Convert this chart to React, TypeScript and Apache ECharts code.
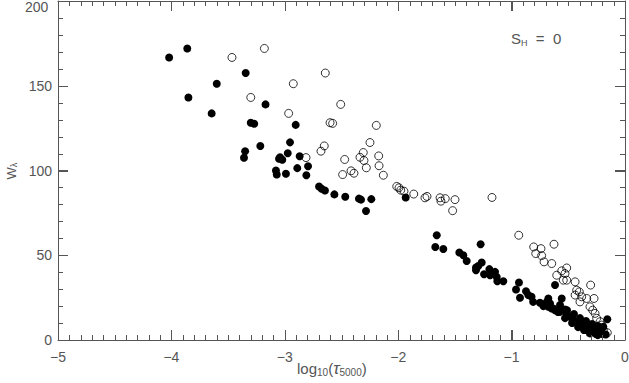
import React, { useEffect, useRef } from "react";
import * as echarts from "echarts";

// log10(tau_5000), W_lambda for S_H = 0
const filledPoints: [number, number][] = [
  [-4.02, 166.7], [-3.86, 172], [-3.85, 143.1], [-3.6, 151.2], [-3.645, 133.7],
  [-3.345, 157.5], [-3.17, 139], [-3.3, 128.2], [-3.27, 127.6], [-3.35, 111.4],
  [-3.36, 107.5], [-3.216, 114.5], [-2.904, 126.9], [-2.954, 116.6], [-2.974, 110.2],
  [-3.042, 107.8], [-3.022, 106.3], [-3.051, 106.9], [-2.869, 108.4], [-2.795, 102.5],
  [-2.89, 101.4], [-3.078, 100], [-3.071, 97.6], [-2.99, 98.1], [-2.81, 97.2],
  [-2.698, 90.6], [-2.675, 89.2], [-2.646, 88.2], [-2.563, 85.9], [-2.467, 84.5],
  [-2.346, 83.4], [-2.328, 82.8], [-2.237, 83.1], [-2.284, 76.1], [-1.934, 84.1],
  [-1.66, 61.8], [-1.673, 54.9], [-1.602, 53.7], [-1.273, 56.5], [-1.461, 51.6],
  [-1.426, 50], [-1.396, 46.6], [-1.264, 45.7], [-1.294, 43.7], [-1.314, 41.2],
  [-1.314, 42.8], [-1.243, 38.8], [-1.196, 41.8], [-1.175, 39.6], [-1.146, 40.2],
  [-1.131, 37.2], [-1.126, 34.7], [-1.073, 34.7], [-1.19, 38.2], [-0.935, 33.9],
  [-0.961, 29.8], [-0.926, 24.9], [-0.873, 28.8], [-0.853, 26.5], [-0.824, 25.5],
  [-0.81, 22.5], [-0.617, 32.4], [-0.558, 24.5], [-0.676, 24.5], [-0.661, 21.6],
  [-0.632, 18.6], [-0.602, 17.6], [-0.573, 16.6], [-0.529, 18.0], [-0.514, 15.7],
  [-0.485, 13.7], [-0.456, 11.8], [-0.412, 10.8], [-0.382, 8.8], [-0.338, 7.8],
  [-0.309, 6.9], [-0.279, 5.9], [-0.25, 4.9], [-0.22, 5.9], [-0.309, 3.9],
  [-0.353, 5.9], [-0.156, 12.2], [-0.191, 7.8], [-0.264, 7.8], [-0.2, 3.5],
  [-0.24, 2.9], [-0.17, 3.2], [-0.75, 22], [-0.72, 20],
  [-0.573, 20.6], [-0.511, 17.6], [-0.45, 15.3], [-0.397, 12.9], [-0.344, 11.2],
  [-0.291, 9.4], [-0.238, 8.2], [-0.591, 16.5], [-0.529, 12.9], [-0.467, 10],
  [-0.414, 7.6], [-0.362, 5.9], [-0.309, 4.7], [-0.256, 3.5], [-0.203, 4.1],
  [-0.69, 22.5], [-0.676, 19.6], [-0.646, 18.6], [-0.617, 17.6],
];

const openPoints: [number, number][] = [
  [-3.466, 166.7], [-3.18, 172], [-3.3, 143.1], [-2.643, 157.5], [-2.925, 151.2],
  [-2.507, 139], [-2.966, 133.7], [-2.601, 128.2], [-2.578, 127.8], [-2.193, 126.6],
  [-2.249, 116.5], [-2.652, 114.5], [-2.681, 111.4], [-2.813, 107.6], [-2.472, 106.5],
  [-2.308, 110.6], [-2.337, 107.8], [-2.302, 105.9], [-2.172, 108.6], [-2.169, 102.8],
  [-2.131, 97.2], [-2.281, 101.6], [-2.49, 97.6], [-2.416, 99.8], [-2.39, 98.4],
  [-2.013, 90.6], [-1.993, 89.8], [-1.978, 88.4], [-1.949, 87.8], [-1.863, 86.1],
  [-1.764, 83.9], [-1.746, 84.7], [-1.631, 83.9], [-1.623, 81.9], [-1.585, 83.4],
  [-1.499, 82.8], [-1.52, 76.3], [-1.173, 84.1], [-0.937, 61.8], [-0.805, 54.9],
  [-0.741, 53.9], [-0.787, 51], [-0.735, 49.8], [-0.714, 46.1], [-0.646, 45.1],
  [-0.626, 56.5], [-0.558, 40.8], [-0.514, 42.5], [-0.529, 39.2], [-0.602, 38.2],
  [-0.514, 35.3], [-0.544, 35.3], [-0.44, 34.3], [-0.426, 29.4], [-0.403, 28.4],
  [-0.44, 26.5], [-0.382, 25.5], [-0.397, 22.5], [-0.303, 32.4], [-0.338, 24.5],
  [-0.273, 24.5], [-0.309, 19.6], [-0.285, 17.6], [-0.264, 15.7], [-0.25, 12.8],
  [-0.22, 10.8], [-0.235, 7.8], [-0.191, 5.9], [-0.156, 4.3], [-0.206, 8.8],
];

const X_MIN = -5;
const X_MAX = 0;
const X_MAJOR = 1;
const X_MINOR = 0.1;
const Y_MIN = 0;
const Y_MAX = 200;
const Y_MAJOR = 50;
const Y_MINOR = 10;

const FONT = "Liberation Sans";
const TEXT = "#555";
const LINE = "#555";

// tick marks: [value, kind] kind 0 = x major, 1 = x minor, 2 = y major, 3 = y minor
function buildTicks(): [number, number][] {
  const out: [number, number][] = [];
  const nx = Math.round((X_MAX - X_MIN) / X_MINOR);
  const sx = Math.round(X_MAJOR / X_MINOR);
  for (let i = 1; i < nx; i++) out.push([X_MIN + i * X_MINOR, i % sx === 0 ? 0 : 1]);
  const ny = Math.round((Y_MAX - Y_MIN) / Y_MINOR);
  const sy = Math.round(Y_MAJOR / Y_MINOR);
  for (let i = 1; i < ny; i++) out.push([Y_MIN + i * Y_MINOR, i % sy === 0 ? 2 : 3]);
  return out;
}

export default function App() {
  const ref = useRef<HTMLDivElement>(null);
  useEffect(() => {
    if (!ref.current) return;
    const chart = echarts.init(ref.current, undefined, { renderer: "svg" });
    const line = { show: true, onZero: false, lineStyle: { color: LINE, width: 1 } };
    const tick = { show: true, inside: true, length: 10, lineStyle: { color: LINE, width: 1 } };
    const minusFmt = (v: number) => String(v).replace("-", "\u2212");
    chart.setOption({
      animation: false,
      backgroundColor: "#fff",
      grid: { left: 58, right: 4, top: 1, bottom: 43, outerBoundsMode: "none" },
      xAxis: [
        {
          type: "value",
          position: "bottom",
          min: X_MIN,
          max: X_MAX,
          interval: X_MAJOR,
          axisLine: line,
          axisTick: tick,
          splitLine: { show: false },
          axisLabel: { formatter: minusFmt, margin: 10, fontSize: 14, color: TEXT, fontFamily: FONT },
        },
        {
          type: "value",
          position: "top",
          min: X_MIN,
          max: X_MAX,
          interval: X_MAJOR,
          axisLine: line,
          axisTick: tick,
          splitLine: { show: false },
          axisLabel: { show: false },
        },
      ],
      yAxis: [
        {
          type: "value",
          position: "left",
          min: Y_MIN,
          max: Y_MAX,
          interval: Y_MAJOR,
          axisLine: line,
          axisTick: tick,
          splitLine: { show: false },
          axisLabel: { showMaxLabel: false, margin: 6, fontSize: 14, color: TEXT, fontFamily: FONT },
        },
        {
          type: "value",
          position: "right",
          min: Y_MIN,
          max: Y_MAX,
          interval: Y_MAJOR,
          axisLine: line,
          axisTick: tick,
          splitLine: { show: false },
          axisLabel: { show: false },
        },
      ],
      graphic: [
        {
          type: "text",
          left: 25,
          top: 0,
          style: { text: "200", fontSize: 14, fill: TEXT, fontFamily: FONT },
        },
        {
          type: "text",
          x: 11,
          y: 171,
          rotation: Math.PI / 2,
          style: {
            text: "W{s|λ}",
            align: "center",
            verticalAlign: "middle",
            fontSize: 13,
            fill: TEXT,
            fontFamily: FONT,
            rich: { s: { fontSize: 9, fill: TEXT, fontFamily: FONT, verticalAlign: "bottom", padding: [6, 0, 0, 0] } },
          },
        },
        {
          type: "text",
          left: 297,
          top: 360,
          style: {
            text: "log{s|10}({t|τ}{s|5000})",
            fontSize: 15,
            fill: TEXT,
            fontFamily: FONT,
            rich: {
              s: { fontSize: 10, fill: TEXT, fontFamily: FONT, verticalAlign: "bottom", padding: [8, 0, 0, 0] },
              t: { fontSize: 17, fill: TEXT, fontFamily: FONT, fontStyle: "italic" },
            },
          },
        },
        {
          type: "text",
          left: 511,
          top: 31,
          style: {
            text: "S{s|H}  =  0",
            fontSize: 15,
            fill: TEXT,
            fontFamily: FONT,
            rich: { s: { fontSize: 9, fill: TEXT, fontFamily: FONT, verticalAlign: "bottom", padding: [8, 0, 0, 0] } },
          },
        },
      ],
      series: [
        {
          type: "custom",
          coordinateSystem: "cartesian2d",
          xAxisIndex: 0,
          yAxisIndex: 0,
          silent: true,
          clip: false,
          z: 5,
          data: buildTicks(),
          renderItem: (_params: any, api: any) => {
            const v = api.value(0);
            const k = api.value(1);
            const style = { fill: LINE };
            if (k === 0 || k === 1) {
              const len = k === 0 ? 10 : 5;
              const b = api.coord([v, Y_MIN]);
              const t = api.coord([v, Y_MAX]);
              const x = Math.round(b[0]);
              return {
                type: "group",
                children: [
                  { type: "rect", shape: { x, y: Math.round(b[1]) - len, width: 1, height: len }, style },
                  { type: "rect", shape: { x, y: Math.round(t[1]), width: 1, height: len }, style },
                ],
              };
            }
            const len = k === 2 ? 10 : 5;
            const l = api.coord([X_MIN, v]);
            const r = api.coord([X_MAX, v]);
            const y = Math.round(l[1]);
            return {
              type: "group",
              children: [
                { type: "rect", shape: { x: Math.round(l[0]), y, width: len, height: 1 }, style },
                { type: "rect", shape: { x: Math.round(r[0]) - len, y, width: len, height: 1 }, style },
              ],
            };
          },
        },
        {
          type: "scatter",
          xAxisIndex: 0,
          yAxisIndex: 0,
          data: filledPoints,
          symbol: "circle",
          symbolSize: 8,
          itemStyle: { color: "#000", opacity: 1 },
        },
        {
          type: "scatter",
          xAxisIndex: 0,
          yAxisIndex: 0,
          data: openPoints,
          symbol: "circle",
          symbolSize: 8,
          itemStyle: { color: "rgba(255,255,255,0)", borderColor: "#000", borderWidth: 0.8, opacity: 1 },
        },
      ],
    });
    return () => chart.dispose();
  }, []);
  return <div ref={ref} style={{ width: 629, height: 383, position: "absolute", left: 0, top: 0 }} />;
}
